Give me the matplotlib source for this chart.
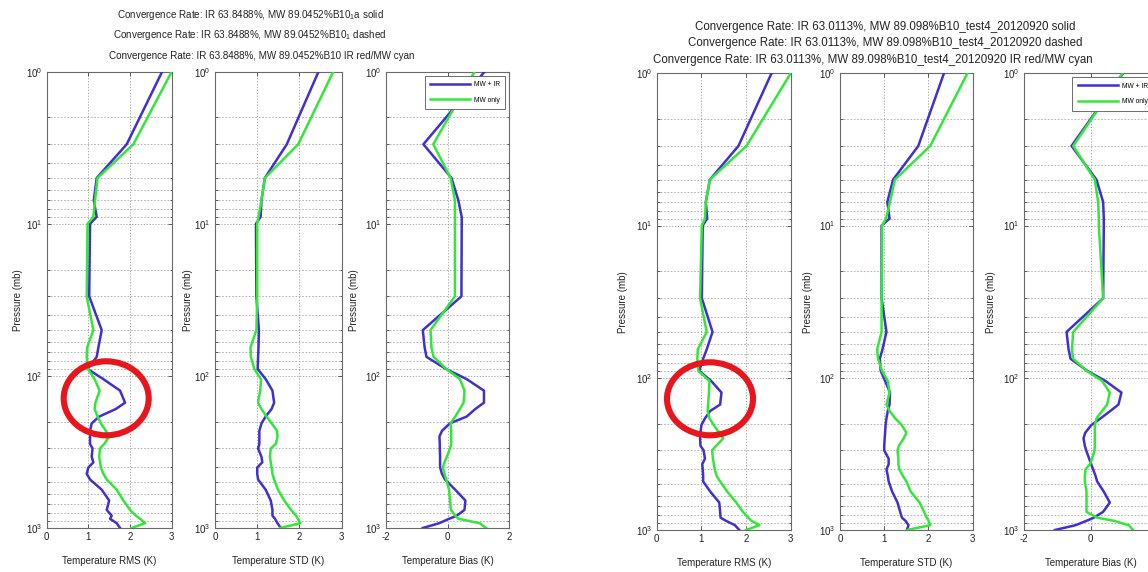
import matplotlib
matplotlib.use("Agg")
import matplotlib.pyplot as plt
from matplotlib.patches import Ellipse
from matplotlib.ticker import LogLocator, FixedLocator, NullFormatter

plt.rcParams["font.family"] = ["Liberation Sans", "DejaVu Sans"]
plt.rcParams["mathtext.fontset"] = "custom"
plt.rcParams["mathtext.rm"] = "Liberation Sans"
plt.rcParams["mathtext.it"] = "Liberation Sans"
plt.rcParams["axes.unicode_minus"] = False

# Pressure levels (mb) shared by all profiles
PRESSURE = [1, 3, 5, 7, 9, 10, 30, 50, 65, 75, 90, 105, 125, 150, 165, 185, 205,
            230, 250, 280, 300, 340, 370, 400, 440, 480, 560, 660, 760, 830, 870, 930, 1000]

# Run B10_1a : MW + IR retrieval vs MW-only retrieval
RMS_MWIR_A = [2.77, 1.92, 1.20, 1.13, 1.20, 1.04, 1.02, 1.32, 1.24, 1.20, 0.98, 1.36, 1.76, 1.88, 1.66,
              1.26, 1.08, 1.04, 1.04, 1.04, 1.10, 1.08, 1.12, 1.00, 0.96, 1.04, 1.32, 1.50, 1.44, 1.56,
              1.52, 1.68, 1.76]
RMS_MW_A = [3.00, 2.08, 1.22, 1.16, 1.12, 0.98, 0.96, 1.12, 0.97, 0.96, 0.99, 1.15, 1.27, 1.17, 1.15,
            1.22, 1.30, 1.42, 1.50, 1.38, 1.28, 1.26, 1.28, 1.30, 1.36, 1.44, 1.68, 1.84, 2.00, 2.14,
            2.24, 2.36, 2.04]
STD_MWIR_A = [2.45, 1.70, 1.18, 1.10, 1.08, 0.97, 0.98, 1.04, 1.03, 1.02, 1.01, 1.20, 1.36, 1.40, 1.34,
              1.20, 1.10, 1.05, 1.05, 1.05, 1.02, 1.10, 1.12, 1.00, 1.00, 1.02, 1.20, 1.32, 1.36, 1.36,
              1.42, 1.48, 1.56]
STD_MW_A = [2.80, 1.97, 1.18, 1.10, 1.03, 1.00, 1.00, 0.98, 0.84, 0.85, 0.93, 1.09, 1.07, 1.02, 1.10,
            1.22, 1.34, 1.47, 1.48, 1.44, 1.32, 1.30, 1.32, 1.34, 1.36, 1.40, 1.49, 1.64, 1.80, 1.92,
            1.96, 2.02, 1.54]
BIAS_MWIR_A = [1.20, -0.78, 0.13, 0.35, 0.46, 0.46, 0.45, -0.80, -0.74, -0.68, -0.05, 0.62, 1.18, 1.18,
               0.90, 0.62, 0.08, -0.18, -0.26, -0.25, -0.25, -0.24, -0.24, -0.24, -0.18, -0.08, 0.25,
               0.58, 0.55, 0.30, 0.05, -0.27, -0.80]
BIAS_MW_A = [0.88, -0.46, 0.10, 0.24, 0.24, 0.24, 0.24, -0.55, -0.52, -0.45, -0.04, 0.40, 0.55, 0.52,
             0.40, 0.25, 0.10, 0.12, 0.12, 0.12, 0.08, -0.02, -0.10, -0.15, -0.10, -0.04, 0.05, 0.08,
             0.11, 0.25, 0.36, 1.04, 1.25]

# Run B10_test4_20120920
RMS_MWIR_B = [2.57, 1.83, 1.19, 1.10, 1.13, 1.03, 1.01, 1.25, 1.12, 1.04, 0.95, 1.22, 1.45, 1.42, 1.20,
              1.08, 1.00, 0.98, 0.97, 0.98, 1.05, 1.08, 1.02, 1.03, 1.04, 1.04, 1.20, 1.40, 1.42, 1.43,
              1.55, 1.75, 1.85]
RMS_MW_B = [3.00, 2.01, 1.19, 1.10, 1.08, 1.01, 0.97, 1.12, 0.92, 0.91, 0.93, 1.18, 1.17, 1.15, 1.14,
            1.18, 1.28, 1.40, 1.49, 1.33, 1.24, 1.26, 1.28, 1.30, 1.34, 1.42, 1.58, 1.78, 1.93, 2.05,
            2.12, 2.30, 2.00]
STD_MWIR_B = [2.35, 1.77, 1.20, 1.07, 1.12, 0.94, 0.94, 1.05, 0.96, 0.90, 0.92, 1.02, 1.13, 1.12, 1.08,
              1.05, 1.03, 1.02, 1.01, 1.00, 1.00, 1.10, 1.10, 1.05, 1.08, 1.10, 1.18, 1.30, 1.36, 1.40,
              1.48, 1.55, 1.51]
STD_MW_B = [2.88, 2.04, 1.24, 1.13, 1.04, 0.95, 0.94, 0.94, 0.84, 0.86, 0.95, 1.08, 1.12, 1.05, 1.12,
            1.25, 1.40, 1.50, 1.44, 1.33, 1.30, 1.32, 1.32, 1.34, 1.42, 1.50, 1.60, 1.80, 1.90, 1.96,
            2.00, 2.04, 1.52]
BIAS_MWIR_B = [0.98, -0.57, 0.18, 0.38, 0.40, 0.40, 0.38, -0.72, -0.66, -0.60, -0.10, 0.45, 0.93, 0.84,
               0.60, 0.30, 0.02, -0.16, -0.21, -0.17, -0.13, -0.04, 0.02, 0.08, 0.15, 0.20, 0.40, 0.58,
               0.38, 0.10, -0.12, -0.45, -1.07]
BIAS_MW_B = [0.96, -0.52, 0.13, 0.23, 0.25, 0.25, 0.38, -0.52, -0.56, -0.52, -0.12, 0.35, 0.58, 0.50,
             0.35, 0.18, 0.13, 0.13, 0.13, 0.13, 0.12, 0.05, -0.02, -0.15, -0.17, -0.17, -0.12, -0.12,
             -0.12, 0.20, 0.70, 1.15, 1.28]

XLABELS = ["Temperature RMS (K)", "Temperature STD (K)", "Temperature Bias (K)"]
YLABEL = "Pressure (mb)"
LEGEND_LABELS = ["MW + IR", "MW only"]

TITLES_A = ["Convergence Rate: IR 63.8488%, MW 89.0452%B10$_1$a solid",
            "Convergence Rate: IR 63.8488%, MW 89.0452%B10$_1$ dashed",
            "Convergence Rate: IR 63.8488%, MW 89.0452%B10 IR red/MW cyan"]
TITLES_B = ["Convergence Rate: IR 63.0113%, MW 89.098%B10_test4_20120920 solid",
            "Convergence Rate: IR 63.0113%, MW 89.098%B10_test4_20120920 dashed",
            "Convergence Rate: IR 63.0113%, MW 89.098%B10_test4_20120920 IR red/MW cyan"]

W, H = 1148, 572
BLUE = "#3f30cf"
GREEN = "#35e63a"
TEXT = "#222222"

fig = plt.figure(figsize=(W / 100, H / 100), dpi=100)


def px_axes(x0, y0, x1, y1):
    return fig.add_axes([x0 / W, 1 - y1 / H, (x1 - x0) / W, (y1 - y0) / H])


def style_panel(ax, xlim, xticks, xlabel, ylabel_x):
    ax.set_yscale("log")
    ax.set_ylim(1000, 1)
    ax.set_xlim(*xlim)
    ax.xaxis.set_major_locator(FixedLocator(xticks))
    ax.yaxis.set_major_locator(FixedLocator([1, 10, 100, 1000]))
    ax.yaxis.set_minor_locator(LogLocator(base=10, subs=range(2, 10)))
    ax.yaxis.set_minor_formatter(NullFormatter())
    ax.tick_params(which="both", direction="in", top=True, right=True,
                   labelsize=7, colors="#444444", labelcolor=TEXT, width=0.6)
    ax.tick_params(which="major", length=3, pad=3)
    ax.tick_params(which="minor", length=1.8)
    ax.grid(True, which="major", axis="both", linestyle=(0, (1.5, 2)), color="#9a9a9a", lw=0.6)
    ax.grid(True, which="minor", axis="y", linestyle=(0, (2, 2)), color="#a8a8a8", lw=0.6)
    for s in ax.spines.values():
        s.set_color("#6a6a6a")
        s.set_linewidth(0.8)
    ax.set_xlabel(xlabel, fontsize=7, color=TEXT)
    ax.xaxis.set_label_coords(0.5, -0.062)
    ax.set_ylabel(YLABEL, fontsize=7, color=TEXT)
    ax.yaxis.set_label_coords(ylabel_x, 0.5)


def draw_figure(boxes, ylab_x, series, titles, title_pos, title_size):
    axes = []
    for i, box in enumerate(boxes):
        ax = px_axes(*box)
        mwir, mw = series[i]
        ax.plot(mwir, PRESSURE, color=BLUE, lw=1.8, label=LEGEND_LABELS[0], zorder=3)
        ax.plot(mw, PRESSURE, color=GREEN, lw=1.8, label=LEGEND_LABELS[1], zorder=3)
        if i < 2:
            style_panel(ax, (0, 3), [0, 1, 2, 3], XLABELS[i], ylab_x[i])
        else:
            style_panel(ax, (-2, 2), [-2, 0, 2], XLABELS[i], ylab_x[i])
        axes.append(ax)
    leg = axes[2].legend(loc="upper right", fontsize=4.8, handlelength=6.0,
                         borderaxespad=0.6, framealpha=1, fancybox=False,
                         edgecolor="#555555", borderpad=0.8, labelspacing=1.3,
                         handletextpad=0.6)
    leg.get_frame().set_linewidth(0.6)
    for (x, y), t in zip(title_pos, titles):
        fig.text(x / W, 1 - y / H, t, ha="center", va="center", fontsize=title_size, color=TEXT)
    return axes


draw_figure(
    [(46.7, 71.7, 171.7, 528), (215, 71.7, 341.7, 528), (385.7, 71.7, 509.3, 528)],
    [-0.19, -0.175, -0.212],
    [(RMS_MWIR_A, RMS_MW_A), (STD_MWIR_A, STD_MW_A), (BIAS_MWIR_A, BIAS_MW_A)],
    TITLES_A,
    [(250, 15), (250, 35), (262, 56)],
    7.1,
)

draw_figure(
    [(656.7, 73.3, 790.7, 530), (840, 73.3, 972.7, 530), (1024, 73.3, 1157, 530)],
    [-0.216, -0.205, -0.209],
    [(RMS_MWIR_B, RMS_MW_B), (STD_MWIR_B, STD_MW_B), (BIAS_MWIR_B, BIAS_MW_B)],
    TITLES_B,
    [(885, 27), (885, 43), (873, 60)],
    8.3,
)

# Highlight rings around the 100-200 mb feature of the RMS panels
for cx, cy, ew, eh in [(106.2, 398.3, 85, 74), (710, 398.8, 86, 73)]:
    fig.add_artist(Ellipse((cx / W, 1 - cy / H), ew / W, eh / H, transform=fig.transFigure,
                           fill=False, edgecolor="#e8161c", lw=4.4, zorder=10))

fig.savefig("out.png", dpi=100, facecolor="white")
